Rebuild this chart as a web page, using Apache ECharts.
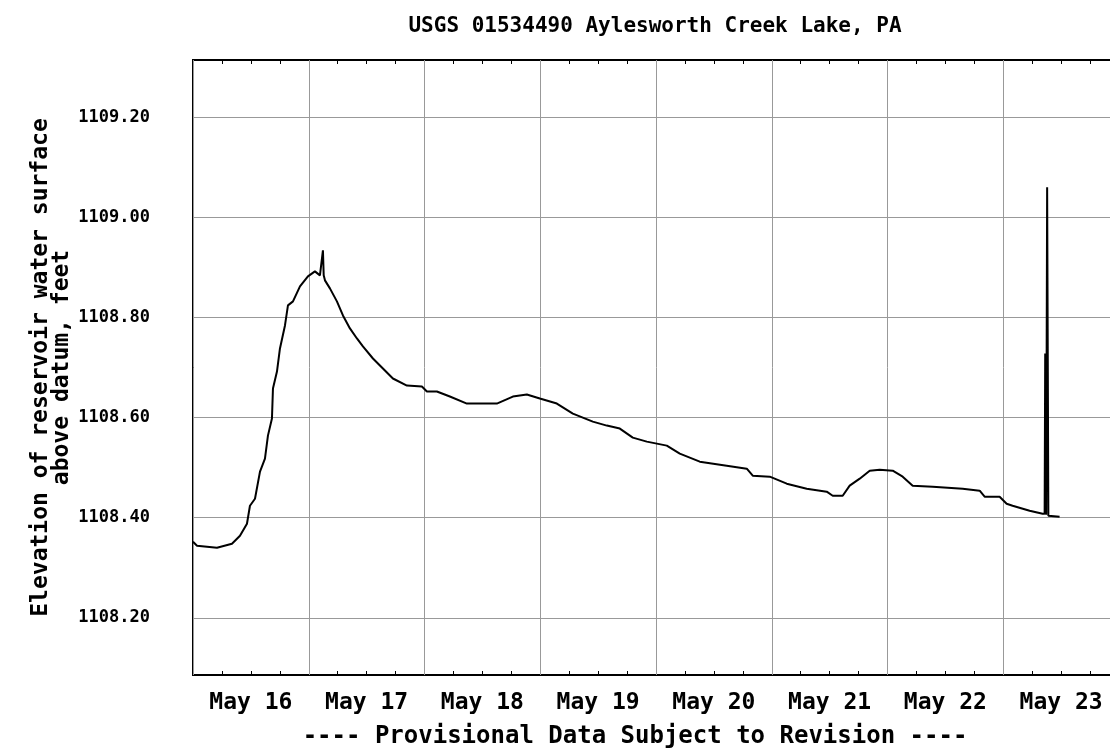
<!DOCTYPE html>
<html>
<head>
<meta charset="utf-8">
<script src="https://cdn.jsdelivr.net/npm/echarts@6/dist/echarts.min.js"></script>
<style>html,body{margin:0;padding:0;background:#fff}#c{width:1110px;height:755px}</style>
</head>
<body>
<div id="c"></div>
<script>
// Hours since May 16 00:00
const hours = [0, 0.83, 4.97, 8.08, 9.74, 11.19, 11.81, 12.85, 13.89, 14.92, 15.54, 16.37, 16.58, 17.41, 18.03, 19.07, 19.69, 20.73, 22.18, 23.83, 25.28, 26.32, 26.7, 26.94, 27.1, 27.36, 28.39, 29.84, 31.09, 32.54, 33.99, 35.23, 37.31, 39.38, 41.45, 44.35, 47.46, 48.50, 50.57, 53.26, 56.79, 63.00, 66.32, 69.22, 71.92, 75.44, 78.76, 82.90, 85.80, 88.50, 91.19, 94.09, 98.24, 100.93, 105.08, 110.67, 114.82, 116.06, 119.59, 123.11, 127.25, 131.40, 132.64, 134.71, 136.16, 138.24, 140.31, 142.38, 145.08, 147.15, 149.22, 153.37, 159.59, 163.11, 164.14, 167.25, 168.70, 169.94, 173.47, 176.16, 176.58, 176.70, 176.90, 177.10, 177.20, 177.35, 177.61, 179.68];
// Elevation of reservoir water surface, feet
const elevation = [1108.352, 1108.344, 1108.340, 1108.348, 1108.364, 1108.388, 1108.424, 1108.438, 1108.492, 1108.518, 1108.564, 1108.598, 1108.658, 1108.692, 1108.738, 1108.784, 1108.824, 1108.832, 1108.862, 1108.882, 1108.892, 1108.884, 1108.884, 1108.934, 1108.884, 1108.874, 1108.858, 1108.832, 1108.804, 1108.778, 1108.758, 1108.742, 1108.718, 1108.698, 1108.678, 1108.664, 1108.662, 1108.652, 1108.652, 1108.642, 1108.628, 1108.628, 1108.642, 1108.646, 1108.638, 1108.628, 1108.608, 1108.592, 1108.584, 1108.578, 1108.560, 1108.552, 1108.544, 1108.528, 1108.512, 1108.504, 1108.498, 1108.484, 1108.482, 1108.468, 1108.458, 1108.452, 1108.444, 1108.444, 1108.464, 1108.478, 1108.494, 1108.496, 1108.494, 1108.482, 1108.464, 1108.462, 1108.458, 1108.454, 1108.442, 1108.442, 1108.428, 1108.424, 1108.414, 1108.408, 1108.408, 1108.728, 1108.406, 1109.060, 1109.060, 1108.404, 1108.404, 1108.402];
const dayLabels = ['May 16', 'May 17', 'May 18', 'May 19', 'May 20', 'May 21', 'May 22', 'May 23'];
const dayCenters = [12, 36, 60, 84, 108, 132, 156, 180];
const yTicks = [1108.2, 1108.4, 1108.6, 1108.8, 1109.0, 1109.2];

const FONT = 'DejaVu Sans Mono';
const chart = echarts.init(document.getElementById('c'), null, {renderer: 'canvas'});
const data = hours.map((h, i) => [h, elevation[i]]);
const xCommon = {
  type: 'value', min: 0, max: 192, interval: 24,
  axisLine: {show: false},
  axisTick: {show: false, inside: true},
  minorTick: {show: true, splitNumber: 4, length: 4, lineStyle: {color: '#000', width: 1}},
  splitLine: {show: true, lineStyle: {color: '#999', width: 1}},
  minorSplitLine: {show: false}
};
chart.setOption({
  animation: false,
  backgroundColor: '#fff',
  title: [
    {text: 'USGS 01534490 Aylesworth Creek Lake, PA', left: 650, top: 11, textAlign: 'center',
     textStyle: {fontFamily: FONT, fontWeight: 'bold', fontSize: 21, color: '#000'}},
    {text: '---- Provisional Data Subject to Revision ----', left: 630, top: 720, textAlign: 'center',
     textStyle: {fontFamily: FONT, fontWeight: 'bold', fontSize: 24, color: '#000'}}
  ],
  grid: {left: 193, width: 926, top: 60, height: 615, outerBoundsMode: 'none', containLabel: false,
    show: true, borderColor: '#000', borderWidth: 2, backgroundColor: 'transparent'},
  xAxis: [
    Object.assign({}, xCommon, {
      position: 'bottom',
      axisLabel: {customValues: dayCenters, formatter: v => dayLabels[dayCenters.indexOf(v)],
        fontFamily: FONT, fontWeight: 'bold', fontSize: 23, color: '#000', margin: 17}
    }),
    Object.assign({}, xCommon, {position: 'top', axisLabel: {show: false}, splitLine: {show: false}})
  ],
  yAxis: {
    type: 'value', min: 1108.086, max: 1109.314,
    name: 'Elevation of reservoir water surface\nabove datum, feet',
    nameLocation: 'middle', nameRotate: 90, nameGap: 120, nameMoveOverlap: false,
    nameTextStyle: {fontFamily: FONT, fontWeight: 'bold', fontSize: 23, color: '#000', lineHeight: 21},
    axisLine: {show: false},
    axisTick: {show: false, customValues: yTicks},
    axisLabel: {customValues: yTicks, formatter: v => v.toFixed(2), fontFamily: FONT, fontWeight: 'bold', fontSize: 17, color: '#000', margin: 43},
    splitLine: {show: true, lineStyle: {color: '#999', width: 1}}
  },
  series: [{
    type: 'line', data: data, xAxisIndex: 0, symbol: 'none',
    lineStyle: {color: '#000', width: 2}
  }]
});
</script>
</body>
</html>
